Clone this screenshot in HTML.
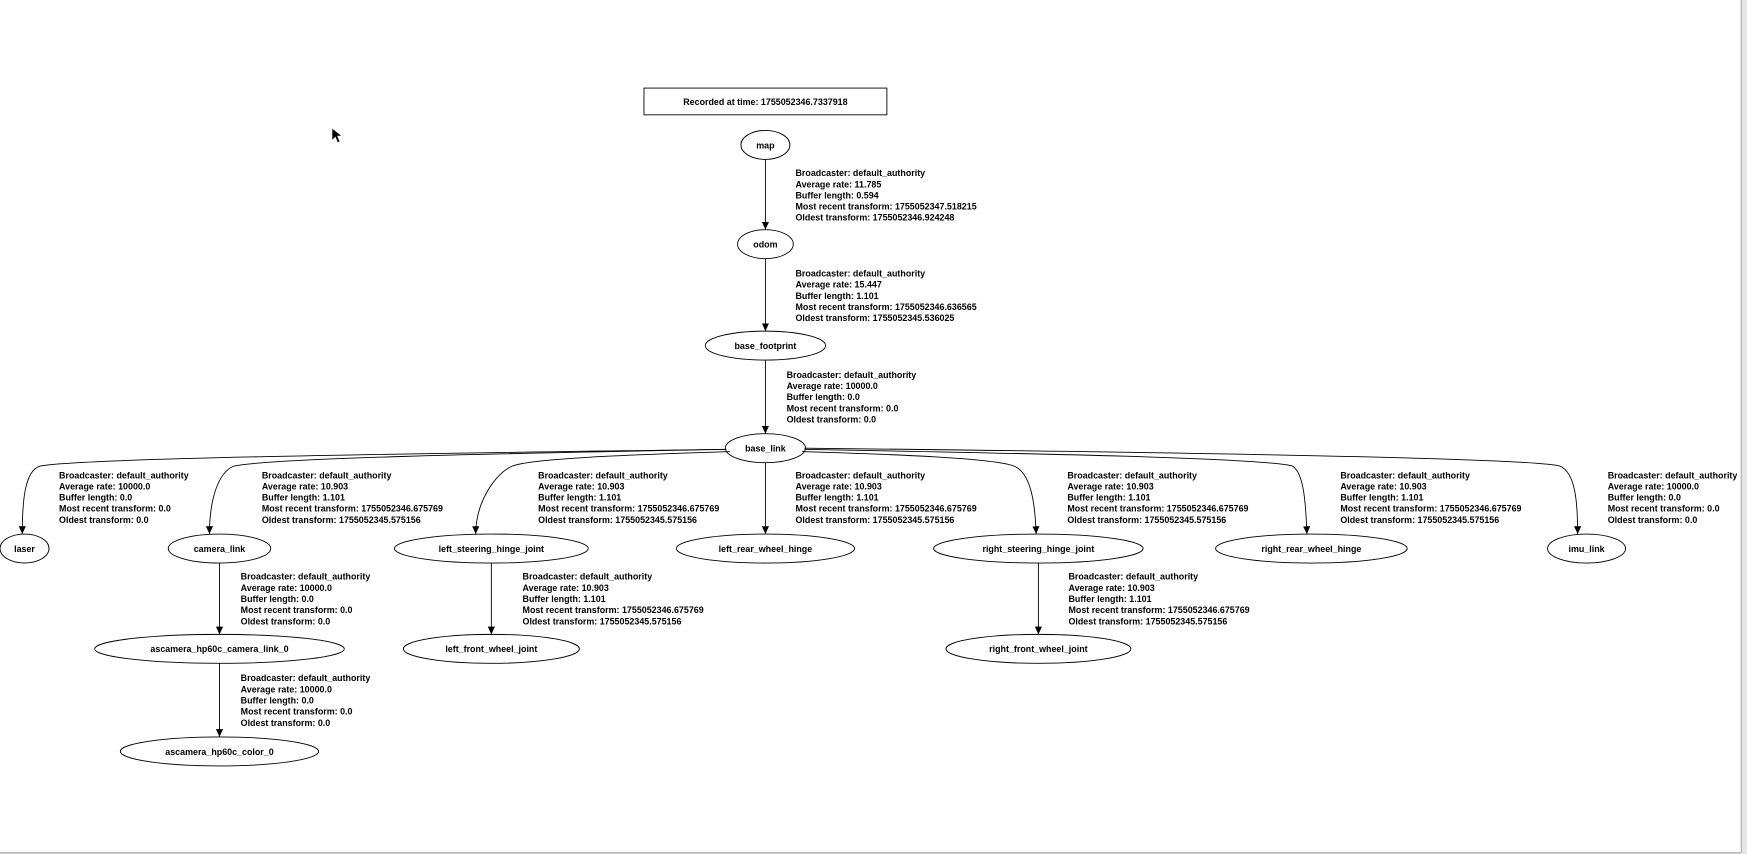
<!DOCTYPE html>
<html><head><meta charset="utf-8"><style>
html,body{margin:0;padding:0;background:#fff;}
svg{display:block;}
text{font-family:"Liberation Sans",sans-serif;font-weight:bold;font-size:8px;fill:#000;}
.n{text-anchor:middle;}
</style></head><body>
<svg width="1747" height="854" viewBox="0 0 1568 766" preserveAspectRatio="none" xmlns="http://www.w3.org/2000/svg">
<defs><marker id="a" markerWidth="8" markerHeight="8" refX="7" refY="4" orient="auto" markerUnits="userSpaceOnUse"><path d="M0,0.8 L7,4 L0,7.2z" fill="#000"/></marker></defs>
<rect x="0" y="0" width="1568" height="766" fill="#fff"/>
<line x1="1563" y1="0" x2="1563" y2="765" stroke="#bbb" stroke-width="1.5"/>
<line x1="0" y1="765" x2="1563" y2="765" stroke="#bbb" stroke-width="1.5"/>
<rect x="1564" y="0" width="4" height="766" fill="#e6e6e6"/>
<polygon points="298,115 298,126 301,123 303,128 305,127 303,122 307,122" fill="#000" stroke="#fff" stroke-width="0.5"/>

<g fill="none" stroke="#000" stroke-width="0.8">
<rect x="578" y="79" width="218" height="24"/>
<ellipse cx="687" cy="130" rx="22" ry="13"/>
<ellipse cx="687" cy="219" rx="25" ry="13"/>
<ellipse cx="687" cy="310" rx="54" ry="13"/>
<ellipse cx="687" cy="402" rx="36" ry="13"/>
<ellipse cx="22" cy="492" rx="22" ry="13"/>
<ellipse cx="197" cy="492" rx="46" ry="13"/>
<ellipse cx="441" cy="492" rx="87" ry="13"/>
<ellipse cx="687" cy="492" rx="80" ry="13"/>
<ellipse cx="932" cy="492" rx="94" ry="13"/>
<ellipse cx="1177" cy="492" rx="86" ry="13"/>
<ellipse cx="1424" cy="492" rx="35" ry="13"/>
<ellipse cx="197" cy="582" rx="112" ry="13"/>
<ellipse cx="441" cy="582" rx="79" ry="13"/>
<ellipse cx="932" cy="582" rx="83" ry="13"/>
<ellipse cx="197" cy="674" rx="89" ry="13"/>
</g>
<g fill="none" stroke="#000" stroke-width="0.8" marker-end="url(#a)">
<line x1="687" y1="143" x2="687" y2="206"/>
<line x1="687" y1="232" x2="687" y2="297"/>
<line x1="687" y1="323" x2="687" y2="389"/>
<line x1="687" y1="415" x2="687" y2="479"/>
<line x1="197" y1="505" x2="197" y2="569"/>
<line x1="197" y1="595" x2="197" y2="661"/>
<line x1="441" y1="505" x2="441" y2="569"/>
<line x1="932" y1="505" x2="932" y2="569"/>
<path d="M652,403 C450,406 80,410 36,418 C22,422 20,450 20,479"/>
<path d="M652,403 C500,406 250,410 210,418 C195,424 188,450 188,479"/>
<path d="M655,405 C600,407 480,410 460,418 C445,424 427,450 427,479"/>
<path d="M720,405 C780,407 890,410 910,418 C925,424 929,450 930,479"/>
<path d="M722,403 C880,406 1130,410 1160,418 C1170,424 1172,450 1173,479"/>
<path d="M722,402 C1000,405 1370,410 1400,418 C1414,424 1416,450 1416,479"/>
</g>

<text class="n" x="687" y="94">Recorded at time: 1755052346.7337918</text>
<text class="n" x="687" y="133">map</text>
<text class="n" x="687" y="222">odom</text>
<text class="n" x="687" y="313">base_footprint</text>
<text class="n" x="687" y="405">base_link</text>
<text class="n" x="22" y="495">laser</text>
<text class="n" x="197" y="495">camera_link</text>
<text class="n" x="441" y="495">left_steering_hinge_joint</text>
<text class="n" x="687" y="495">left_rear_wheel_hinge</text>
<text class="n" x="932" y="495">right_steering_hinge_joint</text>
<text class="n" x="1177" y="495">right_rear_wheel_hinge</text>
<text class="n" x="1424" y="495">imu_link</text>
<text class="n" x="197" y="585">ascamera_hp60c_camera_link_0</text>
<text class="n" x="441" y="585">left_front_wheel_joint</text>
<text class="n" x="932" y="585">right_front_wheel_joint</text>
<text class="n" x="197" y="677">ascamera_hp60c_color_0</text>

<text x="714" y="158">Broadcaster: default_authority<tspan x="714" dy="10">Average rate: 11.785</tspan><tspan x="714" dy="10">Buffer length: 0.594</tspan><tspan x="714" dy="10">Most recent transform: 1755052347.518215</tspan><tspan x="714" dy="10">Oldest transform: 1755052346.924248</tspan></text>
<text x="714" y="248">Broadcaster: default_authority<tspan x="714" dy="10">Average rate: 15.447</tspan><tspan x="714" dy="10">Buffer length: 1.101</tspan><tspan x="714" dy="10">Most recent transform: 1755052346.636565</tspan><tspan x="714" dy="10">Oldest transform: 1755052345.536025</tspan></text>
<text x="706" y="339">Broadcaster: default_authority<tspan x="706" dy="10">Average rate: 10000.0</tspan><tspan x="706" dy="10">Buffer length: 0.0</tspan><tspan x="706" dy="10">Most recent transform: 0.0</tspan><tspan x="706" dy="10">Oldest transform: 0.0</tspan></text>
<text x="53" y="429">Broadcaster: default_authority<tspan x="53" dy="10">Average rate: 10000.0</tspan><tspan x="53" dy="10">Buffer length: 0.0</tspan><tspan x="53" dy="10">Most recent transform: 0.0</tspan><tspan x="53" dy="10">Oldest transform: 0.0</tspan></text>
<text x="235" y="429">Broadcaster: default_authority<tspan x="235" dy="10">Average rate: 10.903</tspan><tspan x="235" dy="10">Buffer length: 1.101</tspan><tspan x="235" dy="10">Most recent transform: 1755052346.675769</tspan><tspan x="235" dy="10">Oldest transform: 1755052345.575156</tspan></text>
<text x="483" y="429">Broadcaster: default_authority<tspan x="483" dy="10">Average rate: 10.903</tspan><tspan x="483" dy="10">Buffer length: 1.101</tspan><tspan x="483" dy="10">Most recent transform: 1755052346.675769</tspan><tspan x="483" dy="10">Oldest transform: 1755052345.575156</tspan></text>
<text x="714" y="429">Broadcaster: default_authority<tspan x="714" dy="10">Average rate: 10.903</tspan><tspan x="714" dy="10">Buffer length: 1.101</tspan><tspan x="714" dy="10">Most recent transform: 1755052346.675769</tspan><tspan x="714" dy="10">Oldest transform: 1755052345.575156</tspan></text>
<text x="958" y="429">Broadcaster: default_authority<tspan x="958" dy="10">Average rate: 10.903</tspan><tspan x="958" dy="10">Buffer length: 1.101</tspan><tspan x="958" dy="10">Most recent transform: 1755052346.675769</tspan><tspan x="958" dy="10">Oldest transform: 1755052345.575156</tspan></text>
<text x="1203" y="429">Broadcaster: default_authority<tspan x="1203" dy="10">Average rate: 10.903</tspan><tspan x="1203" dy="10">Buffer length: 1.101</tspan><tspan x="1203" dy="10">Most recent transform: 1755052346.675769</tspan><tspan x="1203" dy="10">Oldest transform: 1755052345.575156</tspan></text>
<text x="1443" y="429">Broadcaster: default_authority<tspan x="1443" dy="10">Average rate: 10000.0</tspan><tspan x="1443" dy="10">Buffer length: 0.0</tspan><tspan x="1443" dy="10">Most recent transform: 0.0</tspan><tspan x="1443" dy="10">Oldest transform: 0.0</tspan></text>
<text x="216" y="520">Broadcaster: default_authority<tspan x="216" dy="10">Average rate: 10000.0</tspan><tspan x="216" dy="10">Buffer length: 0.0</tspan><tspan x="216" dy="10">Most recent transform: 0.0</tspan><tspan x="216" dy="10">Oldest transform: 0.0</tspan></text>
<text x="469" y="520">Broadcaster: default_authority<tspan x="469" dy="10">Average rate: 10.903</tspan><tspan x="469" dy="10">Buffer length: 1.101</tspan><tspan x="469" dy="10">Most recent transform: 1755052346.675769</tspan><tspan x="469" dy="10">Oldest transform: 1755052345.575156</tspan></text>
<text x="959" y="520">Broadcaster: default_authority<tspan x="959" dy="10">Average rate: 10.903</tspan><tspan x="959" dy="10">Buffer length: 1.101</tspan><tspan x="959" dy="10">Most recent transform: 1755052346.675769</tspan><tspan x="959" dy="10">Oldest transform: 1755052345.575156</tspan></text>
<text x="216" y="611">Broadcaster: default_authority<tspan x="216" dy="10">Average rate: 10000.0</tspan><tspan x="216" dy="10">Buffer length: 0.0</tspan><tspan x="216" dy="10">Most recent transform: 0.0</tspan><tspan x="216" dy="10">Oldest transform: 0.0</tspan></text>
</svg>
</body></html>
